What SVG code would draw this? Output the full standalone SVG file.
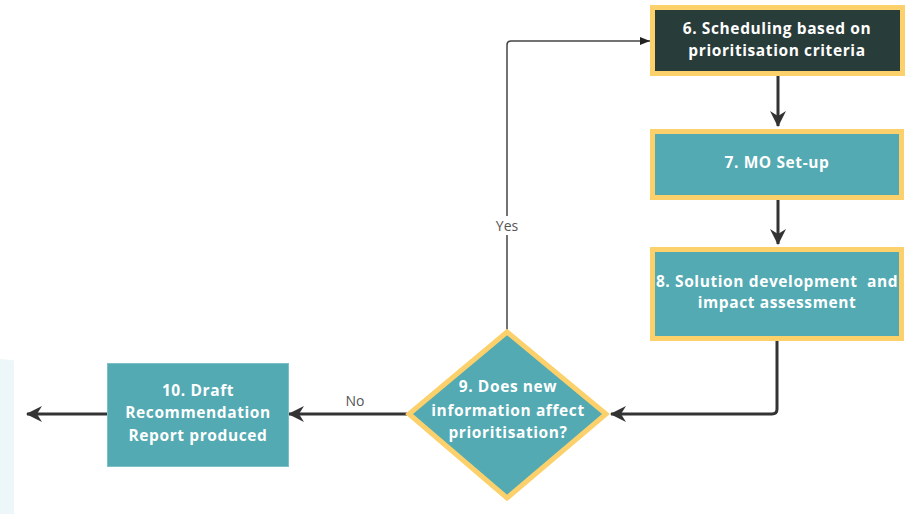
<svg xmlns="http://www.w3.org/2000/svg" width="912" height="514" viewBox="0 0 912 514">
  <defs>
    <style>
      .box { fill: #53aab2; stroke: #fcd06b; stroke-width: 5; }
      .dark { fill: #283c3a; }
      .plain { fill: #53aab2; stroke: #7cc0c6; stroke-width: 1; }
      .lbl { font-family: "Open Sans", "Noto Sans", sans-serif; font-weight: 700; font-size: 15.5px; letter-spacing: 0.6px; fill: #ffffff; text-anchor: middle; }
      .edge { fill: none; stroke: #333333; stroke-width: 3; stroke-linejoin: round; }
      .thin { fill: none; stroke: #444444; stroke-width: 1.5; stroke-linejoin: round; }
      .elbl { font-family: "Open Sans", "Noto Sans", sans-serif; font-size: 14px; fill: #555555; text-anchor: middle; }
    </style>
    <marker id="head" markerUnits="userSpaceOnUse" viewBox="0 0 16 16" markerWidth="16" markerHeight="16" refX="15" refY="8" orient="auto">
      <path d="M0,0 L16,8 L0,16 L5,8 z" fill="#333333"/>
    </marker>
    <marker id="headSmall" markerUnits="userSpaceOnUse" viewBox="0 0 10 10" markerWidth="10" markerHeight="10" refX="10" refY="5" orient="auto">
      <path d="M0,1 L10,5 L0,9 z" fill="#222222"/>
    </marker>
  </defs>

  <rect width="912" height="514" fill="#ffffff"/>
  <!-- side panel -->
  <path d="M0,359 L12,360 Q14,360 14,362 L14,514 L0,514 z" fill="#edf6f8"/>

  <!-- connectors -->
  <g id="connectors">
    <path class="edge" d="M778,76 L778,126" marker-end="url(#head)"/>
    <path class="edge" d="M778,200 L778,244" marker-end="url(#head)"/>
    <path class="edge" d="M777,341 L777,409 Q777,414 772,414 L611,414" marker-end="url(#head)"/>
    <path class="edge" d="M407,414 L289,414" marker-end="url(#head)"/>
    <path class="edge" d="M107,414 L27,414" marker-end="url(#head)"/>
    <path class="thin" d="M507,330 L507,235 M507,216 L507,45 Q507,41 511,41 L650,41" marker-end="url(#headSmall)"/>
    <text class="elbl" x="507" y="231">Yes</text>
    <text class="elbl" x="355" y="406">No</text>
  </g>

  <!-- step 6 -->
  <g id="node6">
    <rect class="box dark" x="652.5" y="7.5" width="250" height="66"/>
    <text class="lbl" x="777" y="34">6. Scheduling based on</text>
    <text class="lbl" x="777" y="56">prioritisation criteria</text>
  </g>

  <!-- step 7 -->
  <g id="node7">
    <rect class="box" x="652.5" y="131.5" width="249" height="66"/>
    <text class="lbl" x="777" y="168">7. MO Set-up</text>
  </g>

  <!-- step 8 -->
  <g id="node8">
    <rect class="box" x="652.5" y="249.5" width="249" height="89"/>
    <text class="lbl" x="777" y="287" xml:space="preserve">8. Solution development  and</text>
    <text class="lbl" x="777" y="308">impact assessment</text>
  </g>

  <!-- decision 9 -->
  <g id="node9">
    <path class="box" d="M507,332 L606,414 L507,498 L409,414 z"/>
    <text class="lbl" x="508" y="392">9. Does new</text>
    <text class="lbl" x="508" y="416">information affect</text>
    <text class="lbl" x="508" y="438">prioritisation?</text>
  </g>

  <!-- step 10 -->
  <g id="node10">
    <rect class="plain" x="107.5" y="363.5" width="181" height="103"/>
    <text class="lbl" x="198" y="396">10. Draft</text>
    <text class="lbl" x="198" y="418">Recommendation</text>
    <text class="lbl" x="198" y="441">Report produced</text>
  </g>
</svg>
